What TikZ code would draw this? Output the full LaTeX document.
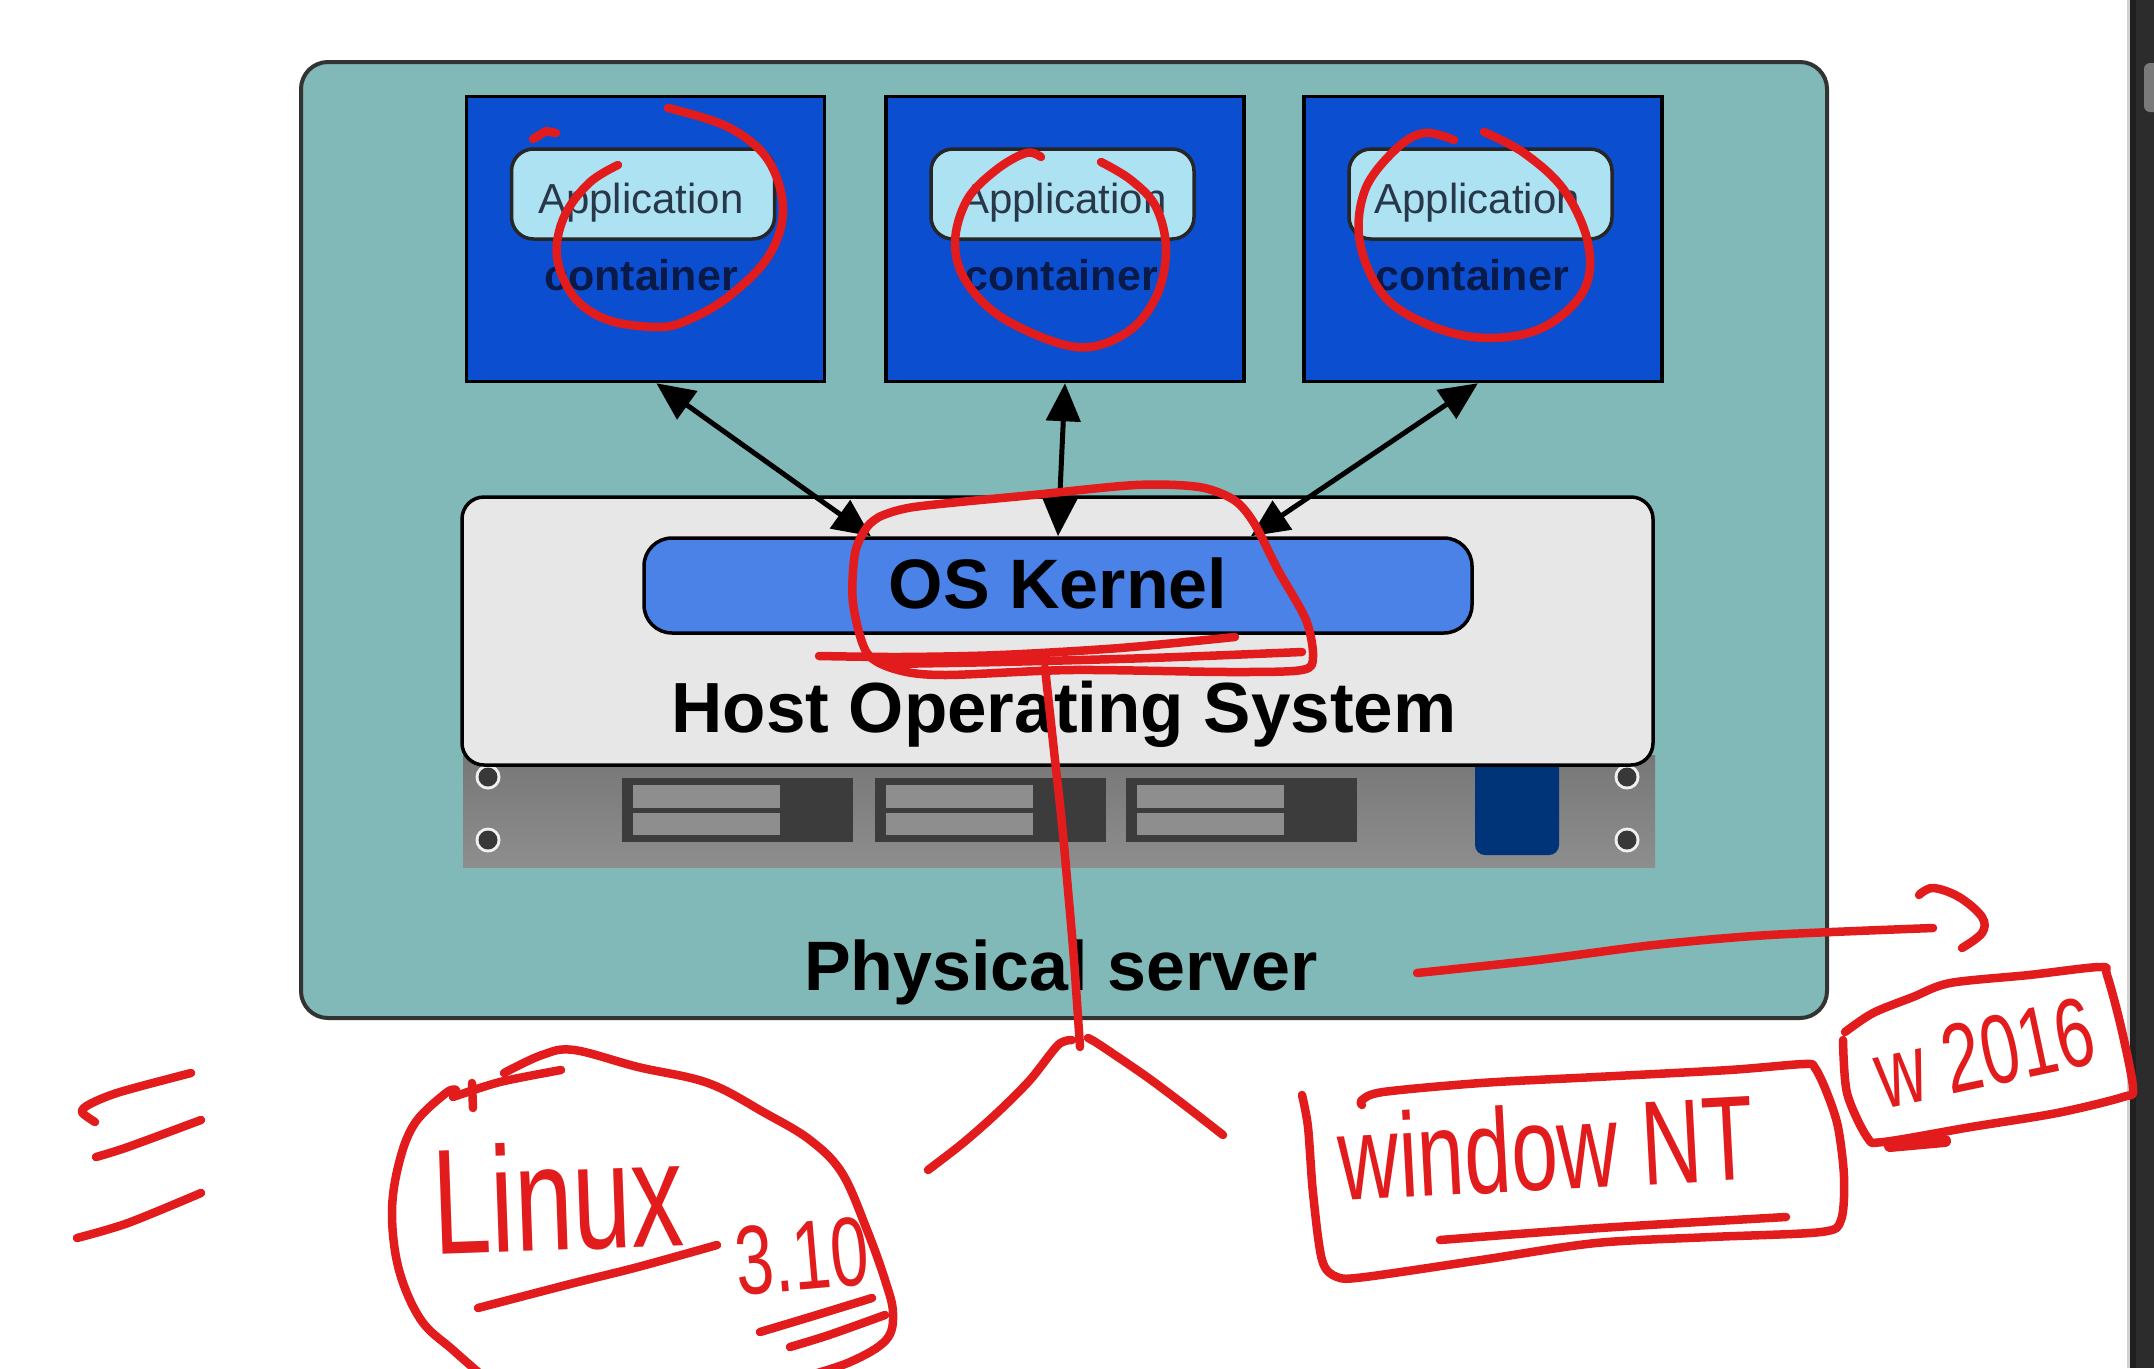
\documentclass[tikz,border=0pt]{standalone}
\usepackage{fontspec}
\setmainfont{Liberation Sans}
\newfontfamily\hand[FakeStretch=0.7]{Liberation Sans}
\usetikzlibrary{arrows.meta,calc}
\definecolor{tealbg}{RGB}{128,185,183}
\definecolor{cblue}{RGB}{12,78,208}
\definecolor{appfill}{RGB}{172,226,242}
\definecolor{apptext}{RGB}{40,56,72}
\definecolor{conttext}{RGB}{10,26,72}
\definecolor{kblue}{RGB}{74,130,232}
\definecolor{hostfill}{RGB}{231,231,231}
\definecolor{chassisgray}{RGB}{132,132,132}
\definecolor{baygray}{RGB}{60,60,60}
\definecolor{slotgray}{RGB}{142,142,142}
\definecolor{navysq}{RGB}{0,52,120}
\definecolor{inkred}{RGB}{226,27,29}
\definecolor{sbar}{RGB}{44,44,44}
\definecolor{sbardark}{RGB}{32,32,32}
\definecolor{thumbgray}{RGB}{122,122,122}
\tikzset{
  outerbox/.style={draw=black!80, line width=4pt, fill=tealbg, rounded corners=27pt, inner sep=0pt, outer sep=0pt},
  contbox/.style={draw=black, line width=3.5pt, fill=cblue, minimum width=358pt, minimum height=285pt, inner sep=0pt},
  apppill/.style={draw=black!85, line width=3.5pt, fill=appfill, rounded corners=22pt, minimum width=263pt, minimum height=90pt, inner sep=0pt},
  apptxt/.style={text=apptext, inner sep=0pt, font=\fontsize{42}{46}\selectfont},
  conttxt/.style={text=conttext, inner sep=0pt, font=\bfseries\fontsize{43}{46}\selectfont},
  hostbox/.style={draw=black, line width=3.5pt, fill=hostfill, rounded corners=22pt, inner sep=0pt},
  kernelbox/.style={draw=black, line width=3.5pt, fill=kblue, rounded corners=28pt, inner sep=0pt},
  bigtxt/.style={text=black, inner sep=0pt, font=\bfseries\fontsize{70}{76}\selectfont},
  biarrow/.style={line width=5pt, {Triangle[length=38pt,width=34pt]}-{Triangle[length=38pt,width=34pt]}},
  ink/.style={draw=inkred, line width=8.5pt, line cap=round, line join=round},
  handtxt/.style={text=inkred, inner sep=0pt},
  baybox/.style={fill=baygray},
  slotbar/.style={fill=slotgray}
}
\begin{document}
\begin{tikzpicture}[x=1pt,y=-1pt]
\useasboundingbox (0,0) rectangle (2154,1368);
\fill[white] (0,0) rectangle (2154,1368);
% scrollbar strip
\fill[black!18] (2127,0) rectangle (2130,1368);
\fill[sbar] (2130,0) rectangle (2154,1368);
\fill[sbardark] (2130,0) rectangle (2136,1368);
\fill[thumbgray, rounded corners=6pt] (2144,63) rectangle (2162,112);

% physical server
\node[outerbox, minimum width=1526pt, minimum height=956pt] (server) at (1064,540) {};

% containers
\node[contbox] (c1) at (645.5,239) {};
\node[contbox] (c2) at (1065,239) {};
\node[contbox] (c3) at (1483,239) {};
\node[apppill] (a1) at (643,194) {};
\node[apppill] (a2) at (1062.5,194) {};
\node[apppill] (a3) at (1480.5,194) {};
\node[apptxt, anchor=base] (at1) at (641,213) {Application};
\node[apptxt, anchor=base] (at2) at (1064,213) {Application};
\node[apptxt, anchor=base] (at3) at (1477,213) {Application};
\node[conttxt, anchor=base] (ct1) at (641,290) {container};
\node[conttxt, anchor=base] (ct2) at (1061,290) {container};
\node[conttxt, anchor=base] (ct3) at (1472,290) {container};

% chassis
\shade[top color=chassisgray!90!black, bottom color=chassisgray!92!white] (463,755) rectangle (1655,867);
\foreach \bx/\by in {488/777,488/840,1627/777,1627/840}{
  \fill[white!88!gray] (\bx,\by) circle (12.5pt);
  \fill[black!78] (\bx,\by) circle (9.5pt);
}
\foreach \dx in {622,875,1126}{
  \fill[baybox] (\dx,778) rectangle ++(231,64);
  \fill[slotbar] (\dx+11,785) rectangle ++(147,23);
  \fill[slotbar] (\dx+11,813) rectangle ++(147,22);
}
\fill[navysq, rounded corners=10pt] (1475,755) rectangle (1559,855);

% host OS and kernel
\node[hostbox, minimum width=1191pt, minimum height=268pt] (host) at (1057.5,631) {};
\node[kernelbox, minimum width=828pt, minimum height=95pt] (kernel) at (1058,585.5) {};
\node[bigtxt, anchor=base] (ktxt) at (1058,608) {OS Kernel};
\node[bigtxt, font=\bfseries\fontsize{71}{76}\selectfont, anchor=base] (htxt) at (1064,732) {Host Operating System};
\node[bigtxt, anchor=base] (phys) at (1061,990) {Physical server};

% arrows
\draw[biarrow] ($(kernel.north west)!0.275!(kernel.north east)$) -- ($(c1.south west)!0.53!(c1.south east)$);
\draw[biarrow] (kernel.north) -- (c2.south);
\draw[biarrow] ($(kernel.north west)!0.732!(kernel.north east)$) -- ($(c3.south west)!0.486!(c3.south east)$);

% ---- red hand annotations ----
% loops around applications
\draw[ink] plot[smooth, tension=0.6] coordinates {(668,108) (728,127) (768,160) (783,210) (768,257) (728,297) (688,320) (658,327) (608,320) (574,297) (557,257) (564,217) (589,183) (618,165)};
\draw[ink] (533,139) -- (546,131) -- (556,133);
\draw[ink] plot[smooth, tension=0.6] coordinates {(1041,157) (1026,153) (996,170) (967,200) (955,243) (967,283) (1006,320) (1076,347) (1126,333) (1156,297) (1166,250) (1156,207) (1131,180) (1101,162)};
\draw[ink] plot[smooth, tension=0.6] coordinates {(1454,140) (1424,133) (1395,150) (1365,190) (1360,243) (1385,297) (1434,327) (1489,338) (1544,327) (1584,290) (1588,243) (1564,190) (1524,153) (1484,132)};

% kernel loop and scribble
\draw[ink] plot[smooth, tension=0.5] coordinates {(879,517) (914,507) (1033,495) (1136,485) (1199,487) (1234,500) (1254,523) (1278,570) (1306,620) (1313,657) (1302,670) (1230,672) (1072,670) (946,675) (898,670) (867,653) (853,603) (855,553) (867,527) (879,517)};
\draw[ink] plot[smooth, tension=0.5] coordinates {(819,656) (900,657) (1000,655) (1120,648) (1235,637)};
\draw[ink] plot[smooth, tension=0.5] coordinates {(885,664) (1000,662) (1150,658) (1302,652)};

% stem and branches
\draw[ink] plot[smooth, tension=0.5] coordinates {(1045,668) (1055,760) (1062,824) (1068,890) (1074,960) (1080,1047)};
\draw[ink] plot[smooth, tension=0.5] coordinates {(1072,1040) (1058,1045) (1030,1080) (997,1113) (963,1143) (928,1170)};
\draw[ink] plot[smooth, tension=0.5] coordinates {(1088,1038) (1100,1045) (1147,1077) (1187,1107) (1223,1135)};

% arrow from physical server
\draw[ink] plot[smooth, tension=0.5] coordinates {(1417,973) (1538,960) (1654,945) (1769,935) (1933,928)};
\draw[ink] plot[smooth, tension=0.6] coordinates {(1919,895) (1933,888) (1959,897) (1982,917) (1982,933) (1962,948)};

% window NT box
\draw[ink] plot[smooth, tension=0.5] coordinates {(1302,1095) (1308,1127) (1313,1193) (1322,1260) (1337,1277) (1365,1277) (1481,1260) (1596,1243) (1711,1237) (1821,1232) (1841,1220) (1844,1177) (1838,1127) (1827,1093) (1815,1068) (1804,1064) (1729,1070) (1596,1077) (1481,1083) (1383,1092) (1362,1100) (1362,1105)};
\draw[ink] plot[smooth, tension=0.5] coordinates {(1440,1240) (1600,1228) (1786,1217)};
\node[handtxt, font=\hand\fontsize{120}{120}\selectfont, rotate=3, anchor=base] (wnt) at (1548,1190) {window NT};

% w 2016 box
\draw[ink] plot[smooth, tension=0.5] coordinates {(1845,1032) (1873,1013) (1913,997) (1950,983) (2029,975) (2100,967) (2107,975) (2121,1027) (2133,1088) (2123,1097) (2057,1113) (1971,1127) (1883,1142) (1867,1137) (1847,1093) (1843,1040)};
\draw[ink, line width=12pt] (1890,1146) -- (1945,1141);
\node[handtxt, font=\hand\fontsize{98}{98}\selectfont, rotate=12, anchor=base] (w16) at (1992,1086) {w 2016};

% Linux circle
\draw[ink] plot[smooth, tension=0.6] coordinates {(485,1378) (453,1350) (421,1320) (399,1270) (392,1213) (399,1163) (415,1123) (446,1093) (456,1090)};
\draw[ink] plot[smooth, tension=0.5] coordinates {(453,1097) (500,1082) (561,1070)};
\draw[ink] (472,1083) -- (473,1108);
\draw[ink] plot[smooth, tension=0.6] coordinates {(504,1073) (542,1055) (574,1050) (638,1067) (708,1083) (765,1113) (810,1140) (842,1173) (867,1230) (885,1280) (893,1313) (886,1340) (850,1362) (800,1378)};
\node[handtxt, font=\hand\fontsize{150}{150}\selectfont, rotate=2, anchor=base] (linux) at (560,1250) {Linux};
\draw[ink] plot[smooth, tension=0.5] coordinates {(478,1308) (574,1283) (638,1267) (717,1245)};
\node[handtxt, font=\hand\fontsize{98}{98}\selectfont, rotate=5, anchor=base] (ver) at (805,1290) {3.10};
\draw[ink] plot[smooth, tension=0.5] coordinates {(760,1332) (810,1317) (872,1298)};
\draw[ink] plot[smooth, tension=0.5] coordinates {(790,1347) (829,1335) (885,1315)};

% three dashes
\draw[ink] plot[smooth, tension=0.5] coordinates {(95,1122) (82,1112) (90,1104) (120,1092) (191,1073)};
\draw[ink] plot[smooth, tension=0.5] coordinates {(96,1157) (128,1147) (201,1120)};
\draw[ink] plot[smooth, tension=0.5] coordinates {(77,1238) (128,1223) (201,1193)};
\end{tikzpicture}
\end{document}
